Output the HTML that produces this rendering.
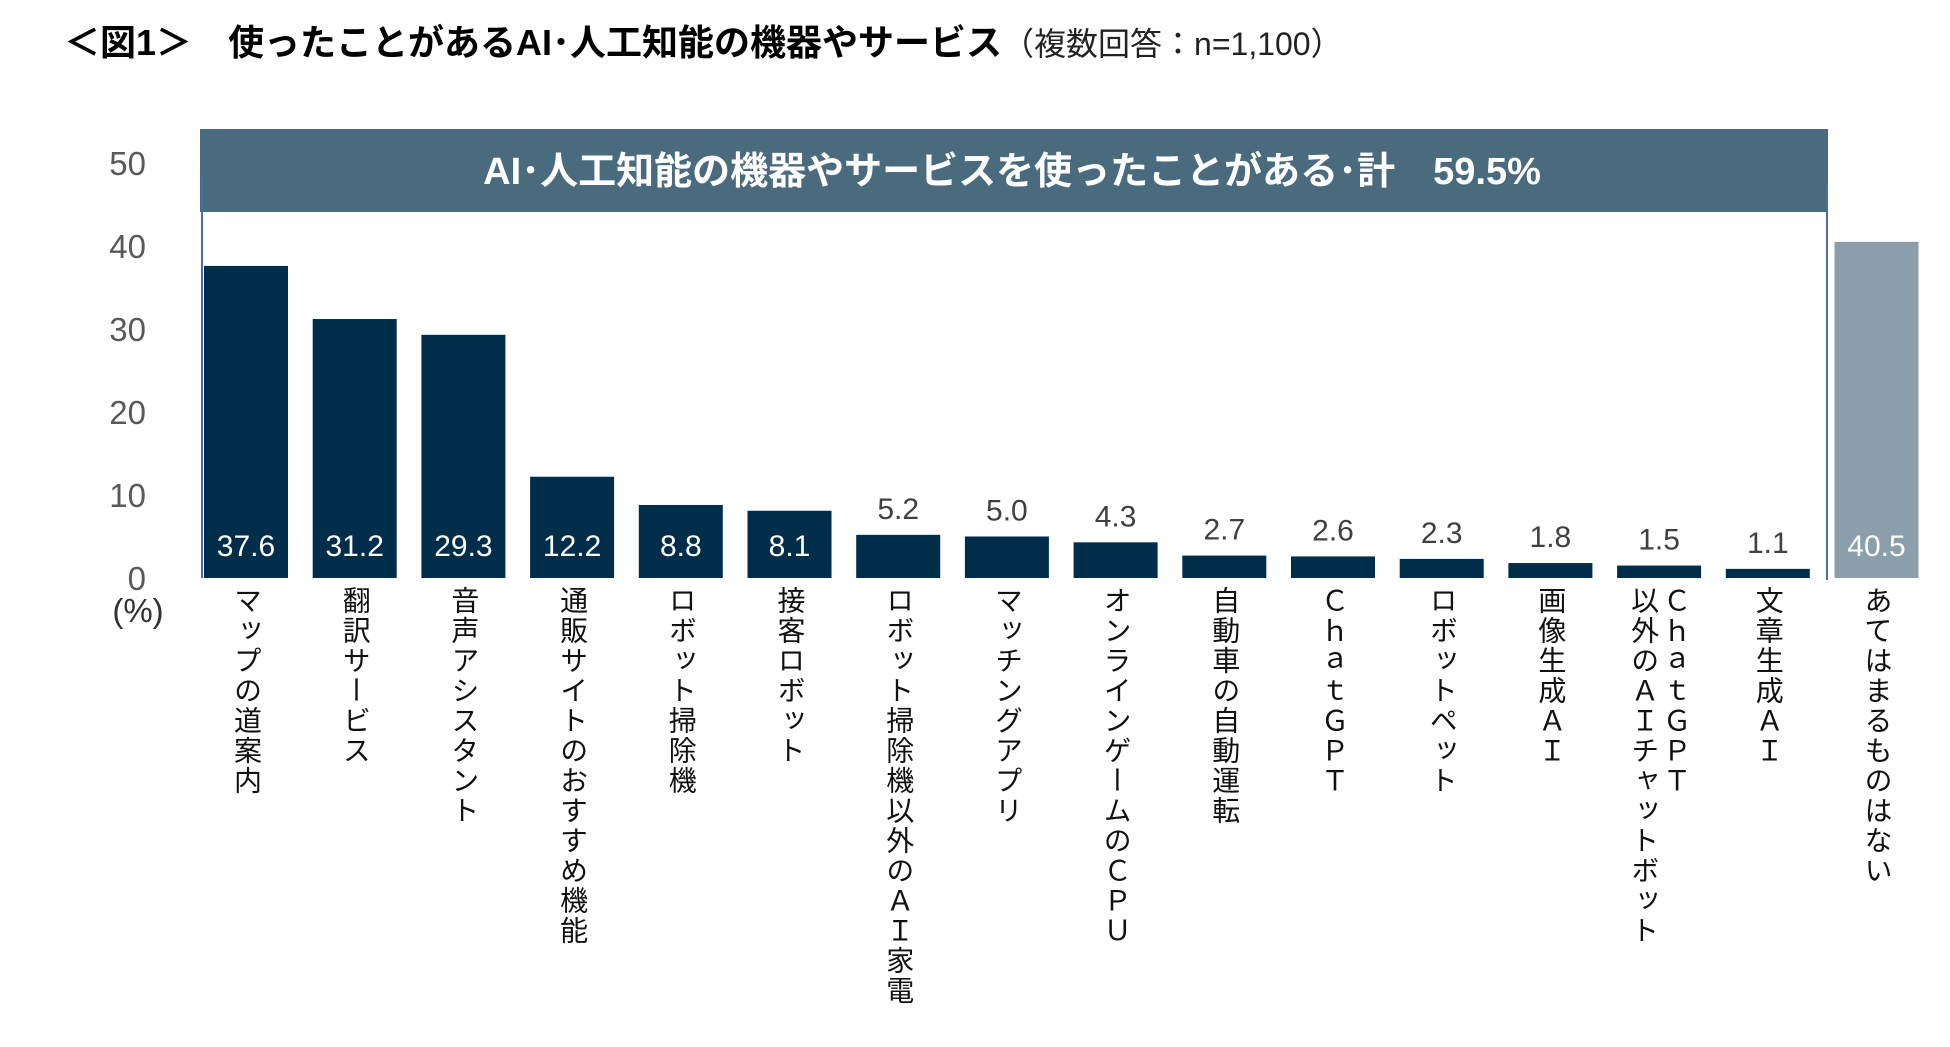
<!DOCTYPE html>
<html><head><meta charset="utf-8"><style>
body{margin:0;width:1950px;height:1047px;background:#fff;overflow:hidden;font-family:"Liberation Sans","Noto Sans CJK JP",sans-serif;}
svg text{font-family:"Liberation Sans","Noto Sans CJK JP",sans-serif;}
.cat{position:absolute;top:586px;writing-mode:vertical-rl;font-size:28px;line-height:32px;color:#111;font-family:"Liberation Sans","Noto Sans CJK JP",sans-serif;white-space:pre;letter-spacing:2px;}
</style></head><body>
<div style="position:absolute;left:64px;top:14px;font-size:36px;font-weight:bold;color:#000;white-space:nowrap;">＜図1＞　使ったことがあるAI･人工知能の機器やサービス<span style="font-weight:normal;font-size:32px;color:#222;">（複数回答：n=1,100）</span></div>
<svg id="chart" width="1950" height="1047" style="position:absolute;left:0;top:0"></svg>
<div id="cats"></div>
<script>
const categories=["マップの道案内","翻訳サービス","音声アシスタント","通販サイトのおすすめ機能","ロボット掃除機","接客ロボット","ロボット掃除機以外のＡＩ家電","マッチングアプリ","オンラインゲームのＣＰＵ","自動車の自動運転","ＣｈａｔＧＰＴ","ロボットペット","画像生成ＡＩ","ＣｈａｔＧＰＴ\n以外のＡＩチャットボット","文章生成ＡＩ","あてはまるものはない"];
const values=[37.6,31.2,29.3,12.2,8.8,8.1,5.2,5.0,4.3,2.7,2.6,2.3,1.8,1.5,1.1,40.5];
const yTicks=[0,10,20,30,40,50];
const totalLabel="AI･人工知能の機器やサービスを使ったことがある･計　59.5%";
const NS="http://www.w3.org/2000/svg";
const svg=document.getElementById('chart');
const y=v=>578-v*8.3;
const xc=i=>246+i*108.7;
const bw=84;
function mk(t,a){const e=document.createElementNS(NS,t);for(const k in a)e.setAttribute(k,a[k]);svg.appendChild(e);return e;}
const b=mk('rect',{x:200,y:129,width:1628,height:83,fill:'#4a6a7e'});


const bt=mk('text',{x:1012,y:184,'text-anchor':'middle','font-size':38,'font-weight':'bold',fill:'#fff'});
bt.textContent=totalLabel;


const l1=mk('line',{x1:202,y1:175,x2:202,y2:578,stroke:'#4a6fa5','stroke-width':2});


const l2=mk('line',{x1:1827,y1:185,x2:1827,y2:580,stroke:'#4a6fa5','stroke-width':2});


yTicks.forEach(t=>{const e=mk('text',{x:146,y:y(t)+12,'text-anchor':'end','font-size':33,fill:'#595959'});e.textContent=t;

});
const u=mk('text',{x:138,y:622,'text-anchor':'middle','font-size':33,fill:'#333'});u.textContent='(%)';


const cats=document.getElementById('cats');
values.forEach((v,i)=>{
 const last=i===values.length-1;
 const r=mk('rect',{x:xc(i)-bw/2,y:y(v),width:bw,height:578-y(v),fill:last?'#8a9fab':'#002d4a'});
 
 
 const inside=v>=8;
 const t=mk('text',{x:xc(i),y:inside?556:y(v)-16,'text-anchor':'middle','font-size':30,fill:inside?'#fff':'#404040'});
 t.textContent=v.toFixed(1);
 
 
 const d=document.createElement('div');
 d.className='cat';d.textContent=categories[i];
 const two=categories[i].includes('\n');
 d.style.left=(xc(i)-(two?32:16))+'px';
 
 
 cats.appendChild(d);
});
</script>
</body></html>
